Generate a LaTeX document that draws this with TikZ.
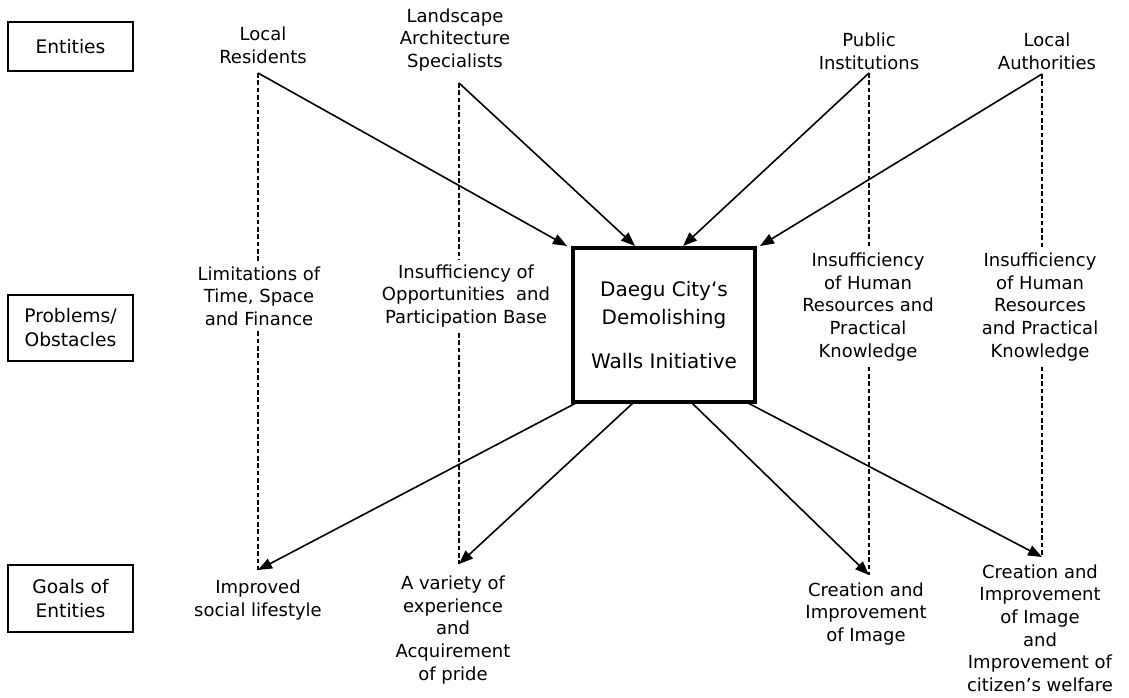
\documentclass[tikz,border=0pt]{standalone}
\usepackage{fontspec}
\setmainfont{DejaVu Sans}
\usetikzlibrary{arrows.meta,calc}
\begin{document}
\begin{tikzpicture}[x=0.75pt,y=-0.75pt,
  lbl/.style={draw,line width=0.9pt,minimum width=93.75pt,inner sep=0pt,align=center,font=\fontsize{14}{18}\selectfont},
  txt/.style={align=center,inner sep=4pt,font=\fontsize{13.5}{17}\selectfont},
  arr/.style={line width=1.2pt,-{Triangle[length=10.5pt,width=8pt]}},
  dsh/.style={line width=0.9pt,dash pattern=on 3.5pt off 2pt},
]
\useasboundingbox (0,0) rectangle (1129,698);
% left labels
\node[lbl,minimum height=36.75pt] (lE) at (70.5,46.5) {Entities};
\node[lbl,minimum height=49.5pt] (lP) at (70.5,328) {Problems/\\Obstacles};
\node[lbl,minimum height=50.25pt] (lG) at (70.5,598.5) {Goals of\\Entities};
% central box
\node[draw,line width=2.6pt,minimum width=136.5pt,minimum height=115.5pt,align=center,
      font=\fontsize{15}{21}\selectfont] (box) at (664,325)
      {Daegu City‘s\\Demolishing\\[12pt]Walls Initiative};
% entities
\node[txt] (e1) at (263,45) {Local\\Residents};
\node[txt] (e2) at (455,40) {Landscape\\Architecture\\Specialists};
\node[txt] (e3) at (869,51) {Public\\Institutions};
\node[txt] (e4) at (1047,51) {Local\\Authorities};
\coordinate (a1) at (258,73);
\coordinate (a2) at (459,83);
\coordinate (a3) at (869,73);
\coordinate (a4) at (1042,74);
% problems
\node[txt] (p1) at (259,296) {Limitations of\\Time, Space\\and Finance};
\node[txt] (p2) at (466,296) {Insufficiency of\\Opportunities\ \ and\\Participation Base};
\node[txt] (p3) at (868,307) {Insufficiency\\of Human\\Resources and\\Practical\\Knowledge};
\node[txt] (p4) at (1040,307) {Insufficiency\\of Human\\Resources\\and Practical\\Knowledge};
% goals
\coordinate (g1) at (258,570);
\coordinate (g2) at (459,564);
\coordinate (g3) at (869,575);
\coordinate (g4) at (1042,557);
\node[txt] (o1) at (258,600) {Improved\\social lifestyle};
\node[txt] (o2) at (453,630) {A variety of\\experience\\and\\Acquirement\\of pride};
\node[txt] (o3) at (866,614) {Creation and\\Improvement\\of Image};
\node[txt] (o4) at (1040,628) {Creation and\\Improvement\\of Image\\and\\Improvement of\\citizen’s welfare};
% dashed verticals
\draw[dsh] (a1) -- (a1 |- p1.north) (a1 |- p1.south) -- (g1);
\draw[dsh] (a2) -- (a2 |- p2.north) (a2 |- p2.south) -- (g2);
\draw[dsh] (a3) -- (a3 |- p3.north) (a3 |- p3.south) -- (g3);
\draw[dsh] (a4) -- (a4 |- p4.north) (a4 |- p4.south) -- (g4);
% arrows into box
\coordinate (t1) at (567,246);
\coordinate (t2) at (635,246);
\coordinate (t3) at (683,246);
\coordinate (t4) at (760,246);
\draw[arr] (a1) -- (t1);
\draw[arr] (a2) -- (t2);
\draw[arr] (a3) -- (t3);
\draw[arr] (a4) -- (t4);
% arrows out of box
\coordinate (s1) at (576,403);
\coordinate (s2) at (633,403);
\coordinate (s3) at (692,403);
\coordinate (s4) at (748,403);
\draw[arr] (s1) -- (g1);
\draw[arr] (s2) -- (g2);
\draw[arr] (s3) -- (g3);
\draw[arr] (s4) -- (g4);
\end{tikzpicture}
\end{document}
